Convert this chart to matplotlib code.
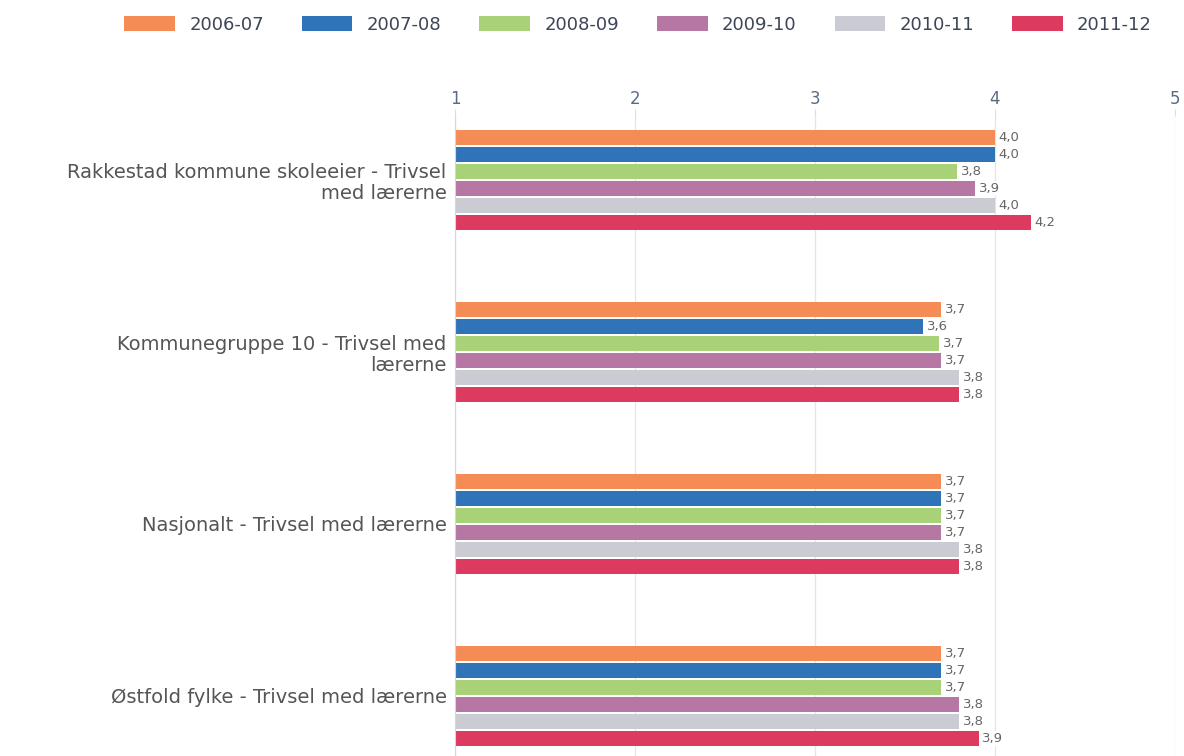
import matplotlib.pyplot as plt
import numpy as np
from matplotlib.patches import Patch

# data
categories = [
    "Rakkestad kommune skoleeier - Trivsel\nmed lærerne",
    "Kommunegruppe 10 - Trivsel med\nlærerne",
    "Nasjonalt - Trivsel med lærerne",
    "Østfold fylke - Trivsel med lærerne",
]
years = ["2006-07", "2007-08", "2008-09", "2009-10", "2010-11", "2011-12"]
v_2006 = [4.00, 3.70, 3.70, 3.70]
v_2007 = [4.00, 3.60, 3.70, 3.70]
v_2008 = [3.79, 3.69, 3.70, 3.70]
v_2009 = [3.89, 3.70, 3.70, 3.80]
v_2010 = [4.00, 3.80, 3.80, 3.80]
v_2011 = [4.20, 3.80, 3.80, 3.91]
series = [v_2006, v_2007, v_2008, v_2009, v_2010, v_2011]
colors = ["#F58C55", "#2F74B8", "#A8D178", "#B677A4", "#CBCBD3", "#DC3A5F"]
xticks = [1, 2, 3, 4, 5]

fig = plt.figure(figsize=(11.84, 7.56), dpi=100)
ax = fig.add_axes([455 / 1184, 0.0, 720 / 1184, 640 / 756])

y = np.arange(len(categories))
step = 0.099
height = 0.09
offsets = (np.arange(len(series)) - (len(series) - 1) / 2) * step

for vals, col, off in zip(series, colors, offsets):
    ypos = y + off
    ax.barh(ypos, np.array(vals) - 1, left=1, height=height, color=col, zorder=2)
    for yy, v in zip(ypos, vals):
        ax.text(v + 0.02, yy, f"{v:.1f}".replace(".", ","), va="center", ha="left",
                fontsize=9.5, color="#666666", zorder=3,
                bbox=dict(boxstyle="square,pad=0.05", fc="white", ec="none"))

ax.set_xlim(1, 5)
ax.set_ylim(3.349, -0.372)
ax.set_xticks(xticks)
ax.xaxis.tick_top()
ax.tick_params(axis="x", length=5, color="#dddddd", labelsize=12,
               labelcolor="#5b6b80", pad=1)
ax.grid(axis="x", color="#e6e6e6", linewidth=1, zorder=0)
ax.set_yticks(y)
ax.set_yticklabels(categories, fontsize=14, color="#555555", linespacing=1.15)
ax.tick_params(axis="y", length=0, pad=6)
for s in ["top", "right", "bottom"]:
    ax.spines[s].set_visible(False)
ax.spines["left"].set_color("#d8d8d8")

handles = [Patch(facecolor=c, edgecolor="none") for c in colors]
fig.legend(handles, years, loc="center", bbox_to_anchor=(0.539, 1 - 25 / 756),
           ncol=6, frameon=False, fontsize=13, handlelength=2.8,
           handleheight=0.9, columnspacing=2.1, handletextpad=0.8,
           labelcolor="#3c4656")

fig.savefig("out.png", dpi=100)
